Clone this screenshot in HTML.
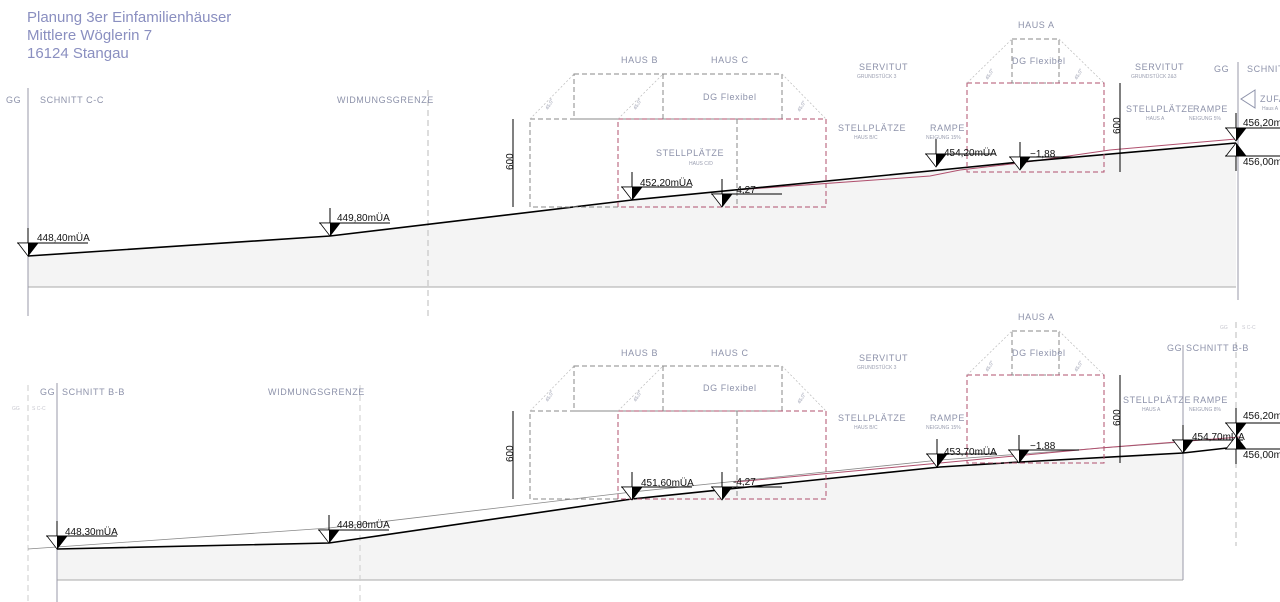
<!DOCTYPE html>
<html><head><meta charset="utf-8"><style>
html,body{margin:0;padding:0;background:#fff;width:1280px;height:602px;overflow:hidden}
svg{display:block}
.t{font-family:"Liberation Sans","DejaVu Sans",sans-serif;fill:#8d92aa;font-size:9px;letter-spacing:0.6px}
.s{font-family:"Liberation Sans",sans-serif;fill:#9a9eb0;font-size:5px}
.v{font-family:"Liberation Sans",sans-serif;fill:#111;font-size:10px}
.ti{font-family:"Liberation Sans",sans-serif;fill:#8a8fc0;font-size:15px}
.dg{fill:none;stroke:#8a8a8a;stroke-width:1;stroke-dasharray:5,3}
.dr{fill:none;stroke:#b0506e;stroke-width:1;stroke-dasharray:5,3}
.rf{stroke:#bbb;stroke-width:0.7;stroke-dasharray:2,2;fill:none}
</style></head><body>
<svg width="1280" height="602" viewBox="0 0 1280 602" xmlns="http://www.w3.org/2000/svg">
<defs>
<g id="m"><line x1="-11" y1="-13" x2="60" y2="-13" stroke="#000" stroke-width="1"/><line x1="0" y1="-28" x2="0" y2="-13" stroke="#000"/><polygon points="-10,-13 10,-13 0,0" fill="#fff" stroke="#000" stroke-width="0.8"/><polygon points="0,-13 10,-13 0,0" fill="#000"/></g>
<g id="mu"><line x1="-11" y1="13" x2="60" y2="13" stroke="#000"/><line x1="0" y1="13" x2="0" y2="28" stroke="#000"/><polygon points="-10,13 10,13 0,0" fill="#fff" stroke="#000" stroke-width="0.8"/><polygon points="0,13 10,13 0,0" fill="#000"/></g>
</defs>

<text class="ti" x="27" y="22">Planung 3er Einfamilienhäuser</text>
<text class="ti" x="27" y="40">Mittlere Wöglerin 7</text>
<text class="ti" x="27" y="58">16124 Stangau</text>

<!-- ============ TOP SECTION ============ -->
<polygon points="28,256 330,236 632,200 940,170 1020,162 1236,143 1236,287 28,287" fill="#f4f4f4"/>
<line x1="28" y1="287" x2="1236" y2="287" stroke="#aaa"/>
<line x1="28" y1="88" x2="28" y2="316" stroke="#9a9aa8"/>
<line x1="428" y1="90" x2="428" y2="316" stroke="#bbb" stroke-dasharray="6,4"/>
<line x1="1238" y1="62" x2="1238" y2="300" stroke="#9a9aa8"/>
<polyline points="735,190 930,176 960,170 1020,163 1110,150 1236,139" fill="none" stroke="#b0506e" stroke-width="1"/>
<polyline points="28,256 330,236 632,200 940,170 1020,162 1236,143" fill="none" stroke="#000" stroke-width="1.6"/>

<text class="t" x="6" y="103">GG</text><text class="t" x="40" y="103">SCHNITT C-C</text>
<text class="t" x="337" y="103">WIDMUNGSGRENZE</text>

<!-- Haus B/C top -->
<rect class="dg" x="574" y="74" width="208" height="45"/><line class="dg" x1="663" y1="74" x2="663" y2="119"/>
<rect class="dg" x="530" y="119" width="296" height="88"/>
<rect class="dr" x="618" y="119" width="208" height="88"/><line class="dg" x1="737" y1="119" x2="737" y2="207"/>
<line class="rf" x1="530" y1="119" x2="574" y2="74"/><line class="rf" x1="618" y1="119" x2="663" y2="74"/><line class="rf" x1="782" y1="74" x2="826" y2="119"/>
<text class="s" x="548" y="110" transform="rotate(-60 548 110)">45,0°</text>
<text class="s" x="636" y="110" transform="rotate(-60 636 110)">45,0°</text>
<text class="s" x="800" y="112" transform="rotate(-60 800 112)">45,0°</text>
<line x1="513" y1="119" x2="513" y2="207" stroke="#000"/>
<text x="513" y="170" class="v" font-size="8" transform="rotate(-90 513 170)">600</text>
<text class="t" x="621" y="63">HAUS B</text><text class="t" x="711" y="63">HAUS C</text>
<text class="t" x="703" y="100">DG Flexibel</text>
<text class="t" x="656" y="156">STELLPLÄTZE</text><text class="s" x="689" y="165">HAUS C/D</text>
<text class="t" x="859" y="70">SERVITUT</text><text class="s" x="857" y="78">GRUNDSTÜCK 3</text>
<text class="t" x="838" y="131">STELLPLÄTZE</text><text class="s" x="854" y="139">HAUS B/C</text>
<text class="t" x="930" y="131">RAMPE</text><text class="s" x="926" y="139">NEIGUNG 15%</text>

<!-- Haus A top -->
<rect class="dg" x="1012" y="39" width="47" height="44"/>
<rect class="dr" x="967" y="83" width="137" height="89"/>
<line class="rf" x1="967" y1="83" x2="1012" y2="39"/><line class="rf" x1="1059" y1="39" x2="1104" y2="83"/>
<text class="s" x="988" y="80" transform="rotate(-60 988 80)">45,0°</text>
<text class="s" x="1077" y="80" transform="rotate(-60 1077 80)">45,0°</text>
<text class="t" x="1018" y="28">HAUS A</text>
<text class="t" x="1012" y="64">DG Flexibel</text>
<line x1="1120" y1="83" x2="1120" y2="172" stroke="#000"/>
<text x="1120" y="134" class="v" font-size="8" transform="rotate(-90 1120 134)">600</text>
<text class="t" x="1135" y="70">SERVITUT</text><text class="s" x="1131" y="78">GRUNDSTÜCK 2&amp;3</text>
<text class="t" x="1126" y="112">STELLPLÄTZE</text><text class="s" x="1146" y="120">HAUS A</text>
<text class="t" x="1193" y="112">RAMPE</text><text class="s" x="1189" y="120">NEIGUNG 5%</text>
<text class="t" x="1214" y="72">GG</text><text class="t" x="1247" y="72">SCHNITT</text>
<polygon points="1255,90 1241,99 1255,108" fill="none" stroke="#8d92aa"/>
<text class="t" x="1260" y="102">ZUFA</text><text class="s" x="1262" y="110">Haus A</text>

<use href="#m" x="28" y="256"/><text class="v" x="37" y="241">448,40mÜA</text>
<use href="#m" x="330" y="236"/><text class="v" x="337" y="221">449,80mÜA</text>
<use href="#m" x="632" y="200"/><text class="v" x="640" y="186">452,20mÜA</text>
<use href="#m" x="722" y="207"/><text class="v" x="733" y="193">-4,27</text>
<use href="#m" x="936" y="167"/><text class="v" x="944" y="156">454,20mÜA</text>
<use href="#m" x="1020" y="170"/><text class="v" x="1030" y="157">−1,88</text>
<use href="#m" x="1236" y="141"/><text class="v" x="1243" y="126">456,20m</text>
<use href="#mu" x="1236" y="143"/><text class="v" x="1243" y="165">456,00m</text>

<!-- ============ BOTTOM SECTION ============ -->
<polygon points="57,549 329,543 632,499 940,467 1020,462 1183,453 1183,580 57,580" fill="#f4f4f4"/>
<line x1="57" y1="580" x2="1183" y2="580" stroke="#aaa"/>
<line x1="57" y1="383" x2="57" y2="602" stroke="#9a9aa8"/>
<line x1="28" y1="385" x2="28" y2="602" stroke="#ccc" stroke-dasharray="6,4"/>
<line x1="360" y1="385" x2="360" y2="602" stroke="#ccc" stroke-dasharray="6,4"/>
<line x1="1183" y1="345" x2="1183" y2="580" stroke="#9a9aa8"/>
<line x1="1236" y1="322" x2="1236" y2="546" stroke="#bbb" stroke-dasharray="6,4"/>
<polyline points="28,549 329,528 632,492 940,460 1183,442" fill="none" stroke="#888" stroke-width="0.8"/>
<polyline points="735,482 940,463 1100,448 1240,437" fill="none" stroke="#b0506e" stroke-width="1"/>
<polyline points="57,549 329,543 632,499 940,467 1020,462 1183,453 1236,447" fill="none" stroke="#000" stroke-width="1.6"/>

<text class="t" x="40" y="395">GG</text><line x1="57" y1="386" x2="57" y2="396" stroke="#9a9aa8"/><text class="t" x="62" y="395">SCHNITT B-B</text>
<text class="s" x="12" y="410" fill="#ccc" style="fill:#c8c8d0">GG</text><text class="s" x="32" y="410" style="fill:#c8c8d0">S C-C</text>
<text class="t" x="268" y="395">WIDMUNGSGRENZE</text>

<rect class="dg" x="574" y="366" width="208" height="45"/><line class="dg" x1="663" y1="366" x2="663" y2="411"/>
<rect class="dg" x="530" y="411" width="296" height="88"/>
<rect class="dr" x="618" y="411" width="208" height="88"/><line class="dg" x1="737" y1="411" x2="737" y2="499"/>
<line class="rf" x1="530" y1="411" x2="574" y2="366"/><line class="rf" x1="618" y1="411" x2="663" y2="366"/><line class="rf" x1="782" y1="366" x2="826" y2="411"/>
<text class="s" x="548" y="402" transform="rotate(-60 548 402)">45,0°</text>
<text class="s" x="636" y="402" transform="rotate(-60 636 402)">45,0°</text>
<text class="s" x="800" y="404" transform="rotate(-60 800 404)">45,0°</text>
<line x1="513" y1="411" x2="513" y2="499" stroke="#000"/>
<text x="513" y="462" class="v" font-size="8" transform="rotate(-90 513 462)">600</text>
<text class="t" x="621" y="356">HAUS B</text><text class="t" x="711" y="356">HAUS C</text>
<text class="t" x="703" y="391">DG Flexibel</text>
<text class="t" x="859" y="361">SERVITUT</text><text class="s" x="857" y="369">GRUNDSTÜCK 3</text>
<text class="t" x="838" y="421">STELLPLÄTZE</text><text class="s" x="854" y="429">HAUS B/C</text>
<text class="t" x="930" y="421">RAMPE</text><text class="s" x="926" y="429">NEIGUNG 15%</text>

<rect class="dg" x="1012" y="331" width="47" height="44"/>
<rect class="dr" x="967" y="375" width="137" height="88"/>
<line class="rf" x1="967" y1="375" x2="1012" y2="331"/><line class="rf" x1="1059" y1="331" x2="1104" y2="375"/>
<text class="s" x="988" y="372" transform="rotate(-60 988 372)">45,0°</text>
<text class="s" x="1077" y="372" transform="rotate(-60 1077 372)">45,0°</text>
<text class="t" x="1018" y="320">HAUS A</text>
<text class="t" x="1012" y="356">DG Flexibel</text>
<line x1="1120" y1="375" x2="1120" y2="463" stroke="#000"/>
<text x="1120" y="426" class="v" font-size="8" transform="rotate(-90 1120 426)">600</text>
<text class="t" x="1123" y="403">STELLPLÄTZE</text><text class="s" x="1142" y="411">HAUS A</text>
<text class="t" x="1193" y="403">RAMPE</text><text class="s" x="1189" y="411">NEIGUNG 8%</text>
<text class="t" x="1167" y="351">GG</text><text class="t" x="1186" y="351">SCHNITT B-B</text>
<text class="s" x="1220" y="329" style="fill:#c8c8d0">GG</text><text class="s" x="1242" y="329" style="fill:#c8c8d0">S C-C</text>

<use href="#m" x="57" y="549"/><text class="v" x="65" y="535">448,30mÜA</text>
<use href="#m" x="329" y="543"/><text class="v" x="337" y="528">448,80mÜA</text>
<use href="#m" x="632" y="500"/><text class="v" x="641" y="486">451,60mÜA</text>
<use href="#m" x="722" y="500"/><text class="v" x="733" y="485">-4,27</text>
<use href="#m" x="937" y="467"/><text class="v" x="944" y="455">453,70mÜA</text>
<use href="#m" x="1019" y="463"/><text class="v" x="1030" y="449">−1,88</text>
<use href="#m" x="1183" y="453"/><text class="v" x="1192" y="440">454,70mÜA</text>
<use href="#m" x="1236" y="436"/><text class="v" x="1243" y="419">456,20m</text>
<use href="#mu" x="1236" y="436"/><text class="v" x="1243" y="458">456,00m</text>
</svg>
</body></html>
